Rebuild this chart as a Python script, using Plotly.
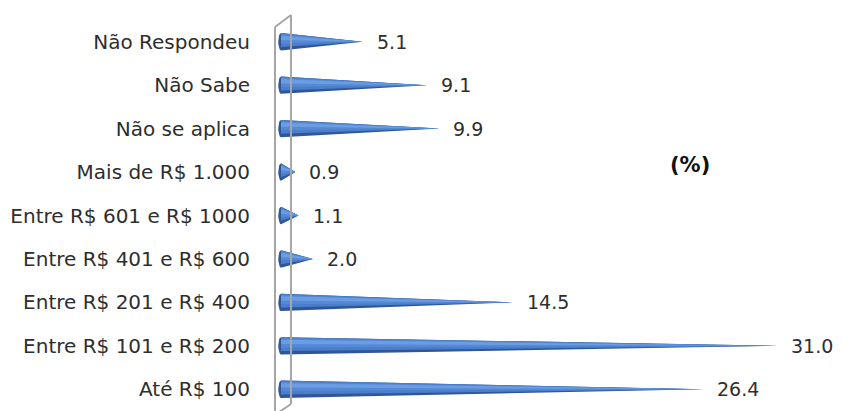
import numpy as np
import plotly.graph_objects as go

categories = ["Até R$ 100", "Entre R$ 101 e R$ 200", "Entre R$ 201 e R$ 400",
              "Entre R$ 401 e R$ 600", "Entre R$ 601 e R$ 1000", "Mais de R$ 1.000",
              "Não se aplica", "Não Sabe", "Não Respondeu"]
values = [26.4, 31.0, 14.5, 2.0, 1.1, 0.9, 9.9, 9.1, 5.1]

FONT = "DejaVu Sans"
TXT = "#2e2e2e"
h = 0.2    # cone half thickness (category units)
ew = 0.17  # base ellipse half width (x units)

def layer(top_f, bot_f, with_base):
    xs, ys = [], []
    for i, v in enumerate(values):
        if with_base:
            t = np.linspace(np.pi / 2, 3 * np.pi / 2, 13)
            ex = list(ew * np.cos(t))
            ey = list(i + h * np.sin(t))
            xs += ex + [v, ex[0], None]
            ys += ey + [i, ey[0], None]
        else:
            xs += [0, v, 0, 0, None]
            ys += [i + h * top_f, i, i - h * bot_f, i + h * top_f, None]
    return xs, ys

fig = go.Figure()
for (tf, bf, base, col) in [(1, 1, True, "#2f5696"),
                            (1.0, 0.6, False, "#4a7dca"),
                            (0.85, 0.2, False, "#5589d6"),
                            (0.7, -0.2, False, "#6a9de2")]:
    xs, ys = layer(tf, bf, base)
    fig.add_trace(go.Scatter(x=xs, y=ys, fill="toself", fillcolor=col,
                             mode="lines", line=dict(width=0), hoverinfo="skip",
                             showlegend=False))

for i, v in enumerate(values):
    fig.add_annotation(x=v, y=i, text=f"{v:.1f}", xanchor="left", yanchor="middle",
                       xshift=12, showarrow=False, font=dict(family=FONT, size=19, color=TXT))

fig.add_annotation(x=0.769, y=0.630, xref="paper", yref="paper", text="<b>(%)</b>",
                   showarrow=False, font=dict(family=FONT, size=21, color="#111"))

# 3D wall outline
wall = dict(color="#a6a6a6", width=2)
fig.add_shape(type="line", xref="paper", yref="paper", x0=0.0, x1=0.0, y0=-0.02, y1=0.982, line=wall)
fig.add_shape(type="line", xref="paper", yref="paper", x0=0.0, x1=0.0282, y0=0.982, y1=1.0128, line=wall)
fig.add_shape(type="line", xref="paper", yref="paper", x0=0.0282, x1=0.0282, y0=1.0128, y1=0.018, line=wall)
fig.add_shape(type="line", xref="paper", yref="paper", x0=0.0282, x1=0.0, y0=0.018, y1=-0.01, line=wall)

fig.update_layout(
    width=835, height=403,
    margin=dict(l=267, r=0, t=12, b=0),
    plot_bgcolor="white", paper_bgcolor="white",
    xaxis=dict(range=[-0.375, 35.125], visible=False, fixedrange=True),
    yaxis=dict(range=[-0.5, 8.5], tickvals=list(range(len(categories))), ticktext=categories,
               showgrid=False, zeroline=False, showline=False, ticks="", automargin=False,
               ticklabelstandoff=24, tickfont=dict(family=FONT, size=20, color=TXT)),
)
fig.write_html("out.html")
